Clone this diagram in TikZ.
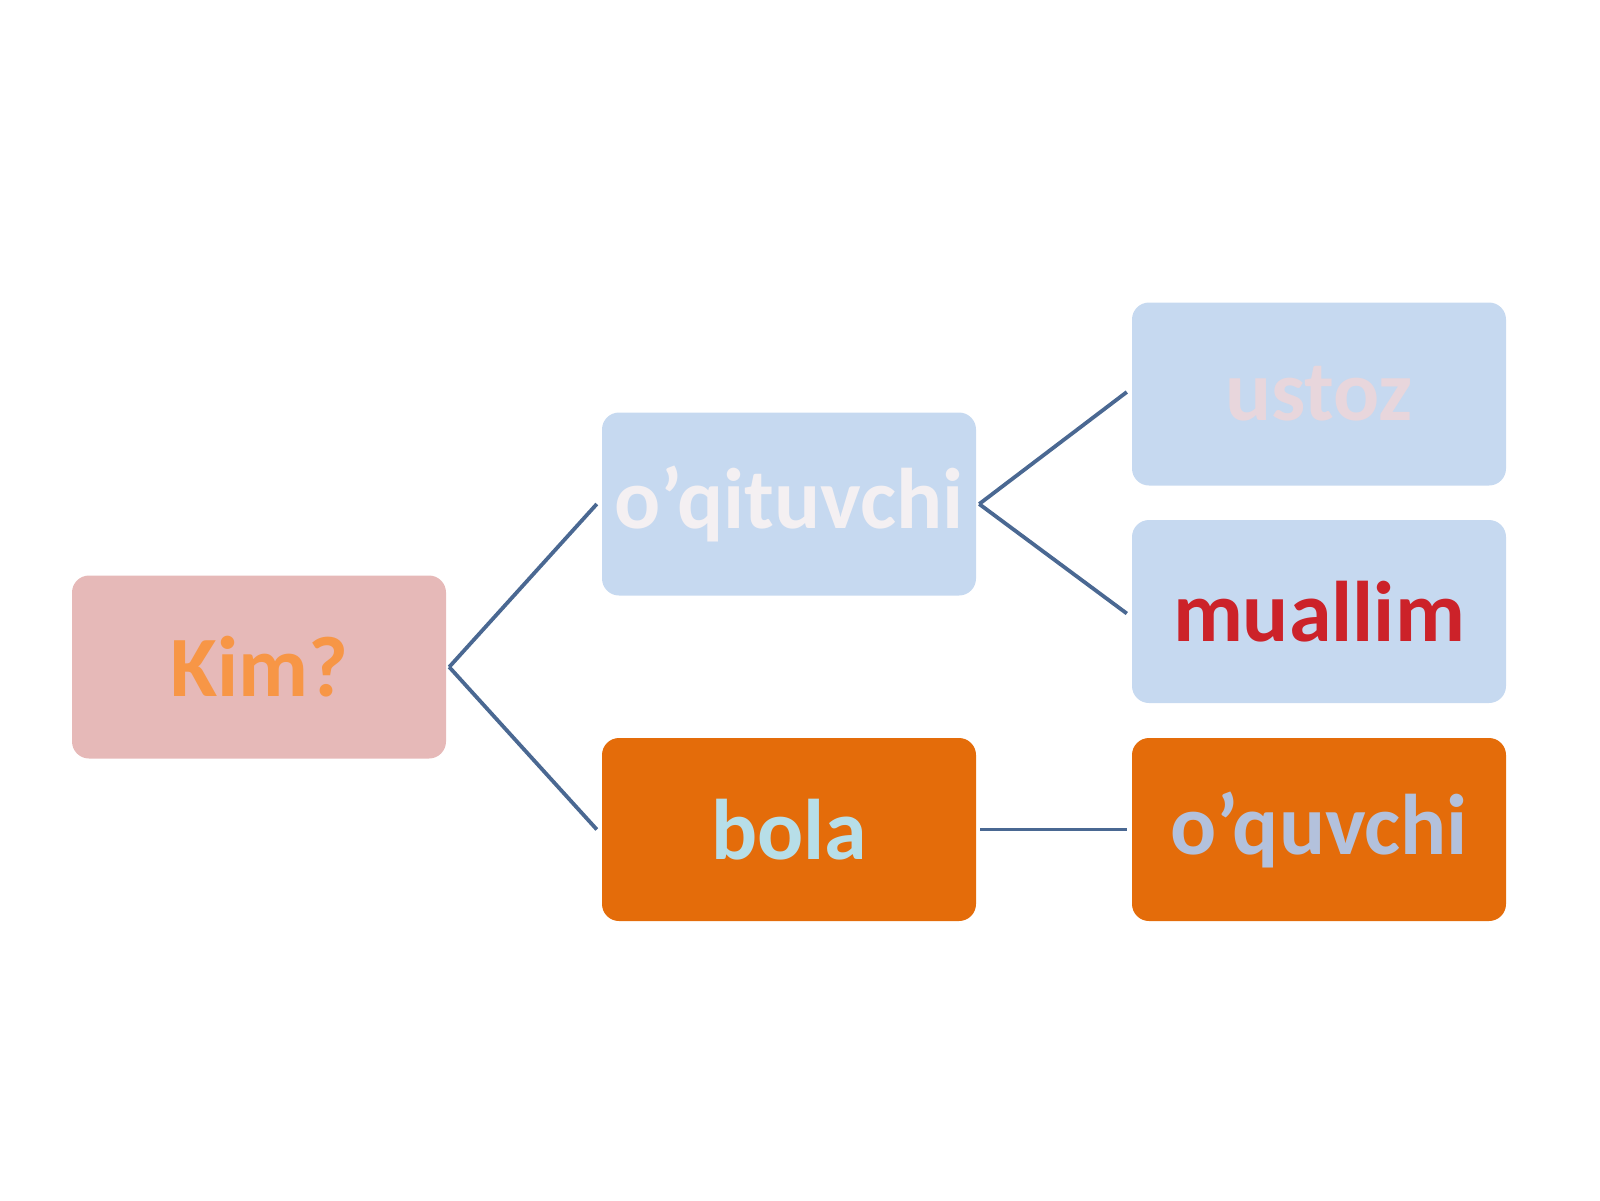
\documentclass[tikz,border=0pt]{standalone}
\usepackage{fontspec}
\setmainfont{Carlito}
\definecolor{pinkbox}{HTML}{E6B9B8}
\definecolor{bluebox}{HTML}{C6D9F0}
\definecolor{orangebox}{HTML}{E46C0A}
\definecolor{conncol}{HTML}{4A6892}
\definecolor{kimtext}{HTML}{F79646}
\definecolor{oqtext}{HTML}{F4F0F2}
\definecolor{ustoztext}{HTML}{E8D6DC}
\definecolor{mualtext}{HTML}{CC2229}
\definecolor{bolatext}{HTML}{B7DEE8}
\definecolor{oquvtext}{HTML}{B3C1DC}
\tikzset{
  box/.style={rectangle, rounded corners=17pt, minimum width=374pt, minimum height=183pt, inner sep=0pt,
    font=\fontsize{86}{100}\selectfont\bfseries},
  conn/.style={draw=conncol, line width=3.8pt}
}
\begin{document}
\begin{tikzpicture}[x=1pt,y=-1pt]
\useasboundingbox (0,0) rectangle (1600,1200);
\node[box, fill=pinkbox, text=kimtext] (kim) at (259,667) {Kim?};
\node[box, fill=bluebox, text=oqtext] (oq) at (789,504) {o’qituvchi};
\node[box, fill=bluebox, text=ustoztext] (ustoz) at (1319,394) {ustoz};
\node[box, fill=bluebox, text=mualtext] (muallim) at (1319,611.5) {muallim};
\node[box, fill=orangebox, text=bolatext] (bola) at (789,829.5) {bola};
\node[box, fill=orangebox, text=oquvtext] (oquv) at (1319,829.5) {o’quvchi};
\draw[conn] ([xshift=3pt]kim.east) -- ([xshift=-5pt]oq.west);
\draw[conn] ([xshift=3pt]kim.east) -- ([xshift=-5pt]bola.west);
\draw[conn] ([xshift=3pt]oq.east) -- ([xshift=-5pt,yshift=2pt]ustoz.west);
\draw[conn] ([xshift=3pt]oq.east) -- ([xshift=-5pt,yshift=-2pt]muallim.west);
\draw[conn] ([xshift=4pt]bola.east) -- ([xshift=-5pt]oquv.west);
\end{tikzpicture}
\end{document}
